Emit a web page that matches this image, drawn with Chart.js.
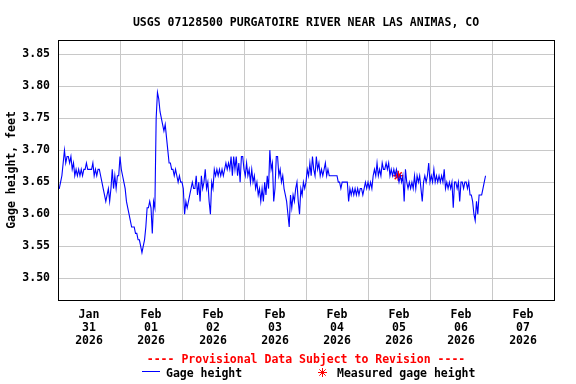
<!DOCTYPE html>
<html lang="en">
<head>
<meta charset="UTF-8">
<title>USGS 07128500 Purgatoire River near Las Animas, CO</title>
<script src="https://cdn.jsdelivr.net/npm/chart.js"></script>
<style>
  body { margin: 0; background: #fff; }
  canvas { display: block; }
</style>
</head>
<body>
<canvas id="gage" width="576" height="384"></canvas>
<script>
// gage height (feet), one reading every half hour starting Jan 31 00:00
const stepHours = 0.5;
const jan31 = [3.64, 3.64, 3.65, 3.66, 3.68, 3.70, 3.68, 3.69, 3.69, 3.68, 3.69, 3.67,
               3.68, 3.66, 3.67, 3.66, 3.67, 3.66, 3.67, 3.66, 3.67, 3.67, 3.68, 3.67,
               3.67, 3.67, 3.67, 3.68, 3.66, 3.67, 3.66, 3.67, 3.67, 3.66, 3.65, 3.64,
               3.63, 3.62, 3.63, 3.64, 3.62, 3.64, 3.67, 3.64, 3.66, 3.64, 3.66, 3.66];
const feb01 = [3.69, 3.67, 3.66, 3.65, 3.64, 3.62, 3.61, 3.60, 3.59, 3.58, 3.58, 3.58,
               3.57, 3.57, 3.56, 3.56, 3.55, 3.54, 3.55, 3.56, 3.58, 3.61, 3.61, 3.62,
               3.61, 3.57, 3.62, 3.61, 3.75, 3.79, 3.78, 3.76, 3.75, 3.74, 3.73, 3.74,
               3.72, 3.70, 3.68, 3.68, 3.67, 3.67, 3.66, 3.67, 3.66, 3.65, 3.66, 3.65];
const feb02 = [3.65, 3.64, 3.60, 3.62, 3.61, 3.62, 3.63, 3.64, 3.65, 3.64, 3.64, 3.66,
               3.63, 3.65, 3.62, 3.66, 3.64, 3.65, 3.67, 3.64, 3.65, 3.62, 3.60, 3.65,
               3.64, 3.67, 3.66, 3.67, 3.66, 3.67, 3.66, 3.67, 3.66, 3.67, 3.68, 3.67,
               3.68, 3.67, 3.69, 3.66, 3.69, 3.67, 3.69, 3.66, 3.68, 3.65, 3.69, 3.69];
const feb03 = [3.67, 3.66, 3.68, 3.66, 3.67, 3.65, 3.67, 3.65, 3.66, 3.64, 3.65, 3.63,
               3.64, 3.62, 3.64, 3.62, 3.65, 3.63, 3.66, 3.64, 3.70, 3.67, 3.68, 3.62,
               3.64, 3.69, 3.69, 3.66, 3.67, 3.65, 3.66, 3.64, 3.63, 3.62, 3.60, 3.58,
               3.63, 3.61, 3.63, 3.62, 3.64, 3.65, 3.62, 3.60, 3.64, 3.63, 3.65, 3.64];
const feb04 = [3.65, 3.67, 3.66, 3.68, 3.66, 3.69, 3.67, 3.66, 3.69, 3.67, 3.68, 3.66,
               3.67, 3.66, 3.67, 3.68, 3.66, 3.67, 3.66, 3.66, 3.66, 3.66, 3.66, 3.66,
               3.66, 3.65, 3.65, 3.64, 3.65, 3.65, 3.65, 3.65, 3.65, 3.62, 3.64, 3.63,
               3.64, 3.63, 3.64, 3.63, 3.64, 3.63, 3.64, 3.64, 3.63, 3.64, 3.65, 3.64];
const feb05 = [3.65, 3.64, 3.65, 3.64, 3.66, 3.67, 3.66, 3.68, 3.66, 3.67, 3.66, 3.68,
               3.67, 3.67, 3.68, 3.67, 3.68, 3.66, 3.67, 3.66, 3.67, 3.66, 3.67, 3.66,
               3.65, 3.66, 3.65, 3.66, 3.62, 3.67, 3.65, 3.64, 3.65, 3.64, 3.65, 3.64,
               3.66, 3.64, 3.66, 3.65, 3.66, 3.64, 3.62, 3.65, 3.66, 3.65, 3.66, 3.68];
const feb06 = [3.65, 3.66, 3.65, 3.67, 3.65, 3.66, 3.65, 3.66, 3.65, 3.66, 3.65, 3.67,
               3.64, 3.65, 3.64, 3.65, 3.64, 3.65, 3.61, 3.65, 3.65, 3.64, 3.65, 3.62,
               3.65, 3.65, 3.64, 3.65, 3.65, 3.64, 3.65, 3.63, 3.63, 3.62, 3.60, 3.59,
               3.62, 3.60, 3.63, 3.63, 3.63, 3.64, 3.65, 3.66];

// field measurement (hours after Jan 31 00:00, feet)
const measuredTime = [131.7];
const measuredHeight = [3.66];

const dayLabels = [["Jan", "31", "2026"], ["Feb", "01", "2026"], ["Feb", "02", "2026"],
                   ["Feb", "03", "2026"], ["Feb", "04", "2026"], ["Feb", "05", "2026"],
                   ["Feb", "06", "2026"], ["Feb", "07", "2026"]];
const yTicks = [3.50, 3.55, 3.60, 3.65, 3.70, 3.75, 3.80, 3.85];

const gageHeight = [].concat(jan31, feb01, feb02, feb03, feb04, feb05, feb06);
const gagePoints = gageHeight.map((v, i) => ({ x: i * stepHours, y: v }));
const measuredPoints = measuredTime.map((t, i) => ({ x: t, y: measuredHeight[i] }));

const mono = '"DejaVu Sans Mono", "Liberation Mono", monospace';
const fontPx = 11.5;
const gridGray = '#c8c8c8';

// title, frame round the plot and the footer legend
const decorations = {
    id: 'decorations',
    afterDatasetsDraw(chart) {
        const { ctx, chartArea: a } = chart;
        ctx.save();
        ctx.strokeStyle = '#000';
        ctx.lineWidth = 1;
        ctx.strokeRect(a.left + 0.5, a.top + 0.5, a.right - a.left, a.bottom - a.top);
        ctx.restore();
    },
    afterDraw(chart) {
        const { ctx } = chart;
        const mid = (chart.chartArea.left + chart.chartArea.right) / 2;
        ctx.save();
        ctx.font = 'bold ' + fontPx + 'px ' + mono;
        ctx.textBaseline = 'alphabetic';
        ctx.textAlign = 'center';
        ctx.fillStyle = '#000';
        ctx.fillText('USGS 07128500 PURGATOIRE RIVER NEAR LAS ANIMAS, CO', mid, 26);
        ctx.fillStyle = '#ff0000';
        ctx.fillText('---- Provisional Data Subject to Revision ----', mid, 363);

        // legend: blue line + text
        ctx.strokeStyle = '#0000ff';
        ctx.lineWidth = 1;
        ctx.beginPath();
        ctx.moveTo(142, 371.5);
        ctx.lineTo(160, 371.5);
        ctx.stroke();
        ctx.textAlign = 'left';
        ctx.fillStyle = '#000';
        ctx.fillText('Gage height', 166, 377);

        // legend: red asterisk + text
        const cx = 322.5, cy = 372.5, r = 4.5, d = 3.2;
        ctx.strokeStyle = '#ff0000';
        ctx.beginPath();
        ctx.moveTo(cx - r, cy); ctx.lineTo(cx + r, cy);
        ctx.moveTo(cx, cy - r); ctx.lineTo(cx, cy + r);
        ctx.moveTo(cx - d, cy - d); ctx.lineTo(cx + d, cy + d);
        ctx.moveTo(cx - d, cy + d); ctx.lineTo(cx + d, cy - d);
        ctx.stroke();
        ctx.fillText('Measured gage height', 337, 377);
        ctx.restore();
    }
};

new Chart(document.getElementById('gage'), {
    type: 'line',
    data: {
        datasets: [{
            label: 'Gage height',
            data: gagePoints,
            borderColor: '#0000ff',
            borderWidth: 1.1,
            pointRadius: 0,
            tension: 0,
            fill: false
        }, {
            type: 'scatter',
            label: 'Measured gage height',
            data: measuredPoints,
            pointStyle: 'star',
            pointRadius: 5,
            borderColor: '#ff0000',
            backgroundColor: '#ff0000',
            pointBorderWidth: 1.5
        }]
    },
    options: {
        responsive: false,
        animation: false,
        events: [],
        layout: { padding: { top: 40, right: 22, bottom: 34, left: 0 } },
        plugins: {
            legend: { display: false },
            title: { display: false },
            tooltip: { enabled: false }
        },
        scales: {
            x: {
                type: 'linear',
                min: 0,
                max: 192,
                afterBuildTicks: (scale) => {
                    const t = [];
                    for (let h = 0; h <= 192; h += 12) t.push({ value: h });
                    scale.ticks = t;
                },
                afterFit: (scale) => { scale.height = 50; },
                border: { display: false },
                grid: {
                    drawTicks: false,
                    color: (c) => (c.tick && c.tick.value % 24 === 0) ? gridGray : 'rgba(0,0,0,0)'
                },
                ticks: {
                    autoSkip: false,
                    maxRotation: 0,
                    padding: 9,
                    color: '#000',
                    font: { family: mono, size: fontPx, weight: 'bold', lineHeight: 1.12 },
                    callback: (v) => (v % 24 === 12) ? dayLabels[(v - 12) / 24] : ''
                }
            },
            y: {
                min: 3.466,
                max: 3.872,
                afterBuildTicks: (scale) => { scale.ticks = yTicks.map(v => ({ value: v })); },
                afterFit: (scale) => { scale.width = 58; },
                border: { display: false },
                grid: { drawTicks: false, color: gridGray },
                title: {
                    display: true,
                    text: 'Gage height, feet',
                    color: '#000',
                    padding: { top: 5, bottom: 0 },
                    font: { family: mono, size: fontPx, weight: 'bold' }
                },
                ticks: {
                    padding: 8,
                    color: '#000',
                    font: { family: mono, size: fontPx, weight: 'bold' },
                    callback: (v) => v.toFixed(2)
                }
            }
        }
    },
    plugins: [decorations]
});
</script>
</body>
</html>
